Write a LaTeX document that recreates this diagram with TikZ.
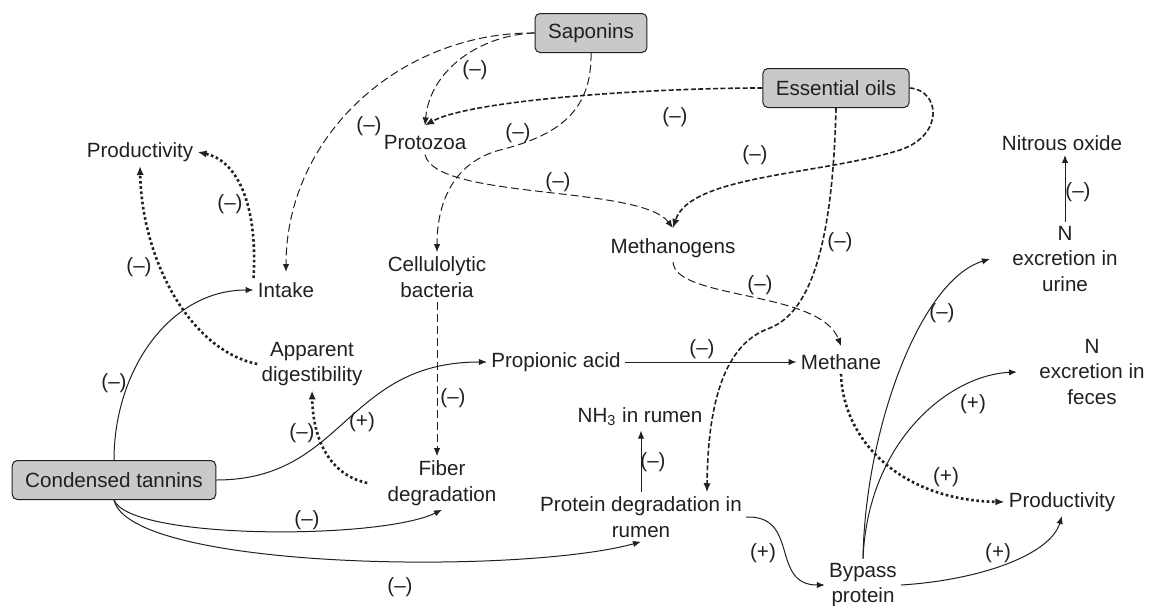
\documentclass[tikz,border=0pt]{standalone}
\usepackage{fontspec}
\setmainfont{Liberation Sans}
\usepackage{tikz}
\usetikzlibrary{arrows.meta}
\definecolor{ink}{HTML}{231F20}

\begin{document}
\begin{tikzpicture}[x=0.5pt,y=-0.5pt,>={Latex[length=4pt,width=3.2pt]}]
	\tikzstyle{every node} = [font=\fontsize{10.3}{12.8}\selectfont, text=ink, inner sep=2pt, align=center]
	\tikzstyle{agent} = [draw=ink, fill=black!21, rounded corners=2.5pt, line width=0.5pt, inner xsep=6.5pt, minimum height=19.5pt]
	\tikzstyle{link} = [draw=ink, line width=0.5pt, ->]
	\tikzstyle{sapline} = [draw=ink, line width=0.5pt, dash pattern=on 4pt off 2pt, ->]
	\tikzstyle{oilline} = [draw=ink, line width=0.8pt, dash pattern=on 2.5pt off 1.2pt, -{Latex[length=4.5pt,width=3.6pt]}]
	\tikzstyle{dotline} = [draw=ink, line width=1.3pt, dash pattern=on 1.3pt off 1.3pt, -{Latex[length=4.5pt,width=3.6pt]}]
	\useasboundingbox (0,0) rectangle (1150,605);
		\node[agent] (sap) at (591,33) {Saponins};
		\node[agent] (eo) at (836,88) {Essential oils};
		\node[agent] (ct) at (114,480) {Condensed tannins};
		\node[] (prodl) at (140,152) {Productivity};
		\node[] (proto) at (425,143) {Protozoa};
		\node[] (intake) at (286,290) {Intake};
		\node[] (cell) at (437,277) {Cellulolytic\\bacteria};
		\node[] (methg) at (673,248) {Methanogens};
		\node[] (nox) at (1062,143) {Nitrous oxide};
		\node[] (nurine) at (1065,259) {N\\excretion in\\urine};
		\node[] (appdig) at (312,364) {Apparent\\digestibility};
		\node[] (prop) at (556,362) {Propionic acid};
		\node[] (methane) at (841,362) {Methane};
		\node[] (nfeces) at (1092,372) {N\\excretion in\\feces};
		\node[] (nh3) at (640,417) {NH\textsubscript{3} in rumen};
		\node[] (fiber) at (442,483) {Fiber\\degradation};
		\node[] (protein) at (641,517) {Protein degradation in\\rumen};
		\node[] (prodr) at (1062,502) {Productivity};
		\node[] (bypass) at (863,585) {Bypass\\protein};
	% saponins
	\draw[sapline] (sap.west) .. controls (400,32) and (286,136) .. ([yshift=3pt]intake.north);
	\draw[sapline] (sap.west) .. controls (480,35) and (430,70) .. ([yshift=3pt]proto.north);
	\draw[sapline] (sap.south) .. controls (592,110) and (560,135) .. (500,150) .. controls (455,162) and (437,200) .. (cell.north);
	\draw[sapline] (proto.south) .. controls (435,200) and (640,185) .. ([yshift=3pt]methg.north);
	\draw[sapline] (methg.south) .. controls (675,300) and (820,290) .. ([yshift=2pt]methane.north);
	\draw[sapline] (cell.south) -- (cell.south |- fiber.north);
	% essential oils
	\draw[oilline] (eo.west) .. controls (650,88) and (470,100) .. ([yshift=3pt]proto.north);
	\draw[oilline] (eo.east) .. controls (940,90) and (945,135) .. (900,150) .. controls (820,175) and (690,175) .. ([yshift=3pt]methg.north);
	\draw[oilline] (eo.south) .. controls (833,230) and (815,310) .. (770,328) .. controls (735,340) and (708,380) .. ([xshift=33pt]protein.north);
	% dotted
	\draw[dotline] (intake.north west) .. controls (258,200) and (235,160) .. (prodl.east);
	\draw[dotline] (appdig.west) .. controls (190,350) and (142,260) .. (prodl.south);
	\draw[dotline] ([xshift=-8pt]fiber.west) .. controls (330,475) and (313,440) .. (appdig.south);
	\draw[dotline] (methane.south) .. controls (843,440) and (900,500) .. (prodr.west);
	% condensed tannins and rest
	\draw[link] (ct.north) .. controls (114,370) and (170,290) .. (intake.west);
	\draw[link] (ct.east) .. controls (345,480) and (345,362) .. (prop.west);
	\draw[link] (ct.south) .. controls (130,540) and (380,540) .. (fiber.south);
	\draw[link] (ct.south) .. controls (130,570) and (520,575) .. (protein.south);
	\draw[link] (prop.east) -- (methane.west);
	\draw[link] (protein.north) -- (protein.north |- nh3.south);
	\draw[link] (protein.east) .. controls (800,515) and (770,585) .. (bypass.west);
	\draw[link] (bypass.north) .. controls (865,430) and (920,280) .. ([xshift=-9pt]nurine.west);
	\draw[link] (bypass.north) .. controls (868,440) and (950,375) .. ([xshift=-9pt]nfeces.west);
	\draw[link] (bypass.east) .. controls (980,580) and (1050,555) .. (prodr.south);
	\draw[link] (nurine.north) -- (nurine.north |- nox.south);
	% signs
		\node[] (s1) at (475,70) {(–)};
		\node[] (s2) at (369,126) {(–)};
		\node[] (s3) at (518,133) {(–)};
		\node[] (s4) at (675,117) {(–)};
		\node[] (s5) at (755,155) {(–)};
		\node[] (s6) at (558,182) {(–)};
		\node[] (s7) at (840,242) {(–)};
		\node[] (s8) at (760,285) {(–)};
		\node[] (s9) at (230,204) {(–)};
		\node[] (s10) at (139,267) {(–)};
		\node[] (s11) at (114,383) {(–)};
		\node[] (s12) at (702,349) {(–)};
		\node[] (s13) at (453,398) {(–)};
		\node[] (s14) at (362,422) {(+)};
		\node[] (s15) at (302,433) {(–)};
		\node[] (s16) at (653,462) {(–)};
		\node[] (s17) at (307,520) {(–)};
		\node[] (s18) at (400,587) {(–)};
		\node[] (s19) at (763,553) {(+)};
		\node[] (s20) at (946,477) {(+)};
		\node[] (s21) at (942,313) {(–)};
		\node[] (s22) at (973,404) {(+)};
		\node[] (s23) at (998,553) {(+)};
		\node[] (s24) at (1078,192) {(–)};
\end{tikzpicture}
\end{document}
